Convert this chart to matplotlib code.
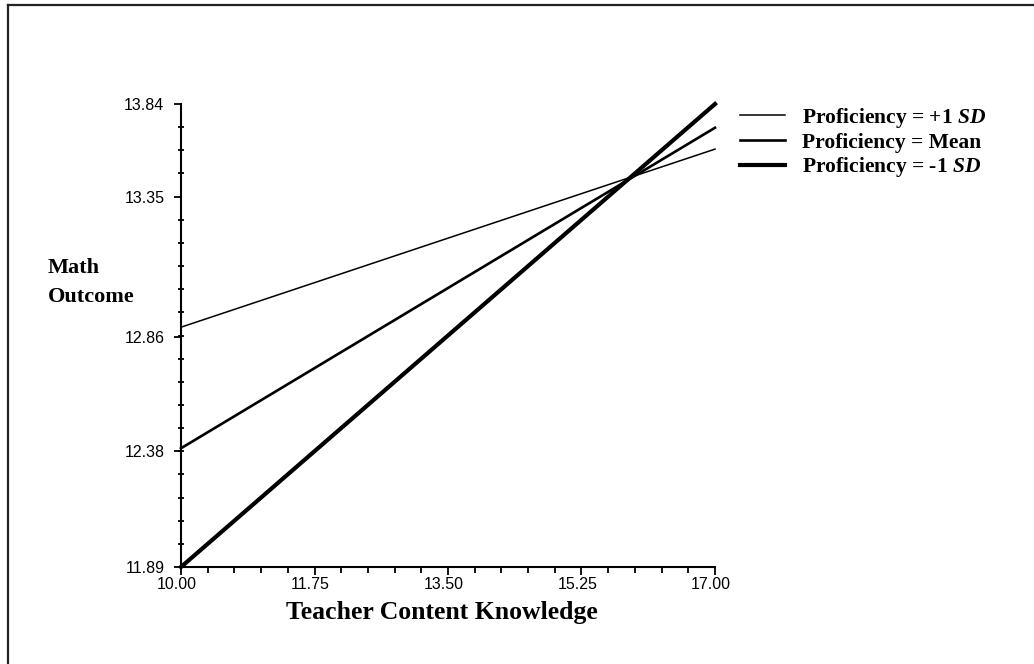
import matplotlib
matplotlib.use("Agg")
import numpy as np
import matplotlib.pyplot as plt
from matplotlib.lines import Line2D
from matplotlib.transforms import ScaledTranslation

# data
knowledge = [10.00, 17.00]
plus_sd = [12.90, 13.65]
mean_prof = [12.39, 13.74]
minus_sd = [11.89, 13.84]

xticks = [10.00, 11.75, 13.50, 15.25, 17.00]
# label positions as they sit in the reference (the "13.35" label is drawn higher up)
yticks = [11.89, 12.38, 12.86, 13.45, 13.84]
ytick_labels = ["11.89", "12.38", "12.86", "13.35", "13.84"]
labels = ["Proficiency = +1 $SD$", "Proficiency = Mean", "Proficiency = -1 $SD$"]

plt.rcParams['mathtext.fontset'] = 'custom'
plt.rcParams['mathtext.it'] = 'Liberation Serif:italic:bold'
plt.rcParams['mathtext.rm'] = 'Liberation Serif:bold'
plt.rcParams['mathtext.bf'] = 'Liberation Serif:bold'

fig = plt.figure(figsize=(10.34, 6.64), dpi=100)
ax = fig.add_axes([181/1034, 1-567/664, 534/1034, 463/664])

l1, = ax.plot(knowledge, plus_sd, color='black', lw=1.1, clip_on=False)
l2, = ax.plot(knowledge, mean_prof, color='black', lw=1.9, clip_on=False)
l3, = ax.plot(knowledge, minus_sd, color='black', lw=3.0, clip_on=False)

ax.set_xlim(10, 17)
ax.set_ylim(11.89, 13.84)
ax.set_xticks(xticks)
ax.set_xticklabels(["%.2f" % v for v in xticks])
ax.set_xticks(np.linspace(10, 17, 21), minor=True)
ax.set_yticks(yticks)
ax.set_yticklabels(ytick_labels)
ax.set_yticks(np.linspace(11.89, 13.84, 21), minor=True)

for s in ['top', 'right']:
    ax.spines[s].set_visible(False)
for s in ['left', 'bottom']:
    ax.spines[s].set_linewidth(1.5)

ax.tick_params(axis='x', which='major', direction='out', length=5.5, width=1.3, pad=2, labelsize=11.5)
ax.tick_params(axis='x', which='minor', direction='out', length=4, width=1.3)
ax.tick_params(axis='y', which='major', direction='out', length=5, width=1.3, pad=7, labelsize=11.5)
ax.tick_params(axis='y', which='minor', direction='inout', length=4.5, width=1.3)
shift = ScaledTranslation(-4/100, 0, fig.dpi_scale_trans)
for lab in ax.get_xticklabels():
    lab.set_family('Liberation Sans')
    lab.set_transform(lab.get_transform() + shift)
for lab in ax.get_yticklabels():
    lab.set_family('Liberation Sans')

fig.text(442/1034, 1-613/664, "Teacher Content Knowledge", ha='center', va='center',
         family='Liberation Serif', weight='bold', fontsize=18.5)
fig.text(48/1034, 1-268/664, "Math", ha='left', va='center',
         family='Liberation Serif', weight='bold', fontsize=16)
fig.text(48/1034, 1-297/664, "Outcome", ha='left', va='center',
         family='Liberation Serif', weight='bold', fontsize=16)

fig.legend([l1, l2, l3], labels, loc='upper left', bbox_to_anchor=(740/1034, 1-106/664),
           frameon=False, borderpad=0, borderaxespad=0, handlelength=2.1, handletextpad=0.8,
           labelspacing=0.12, prop={'family': 'Liberation Serif', 'weight': 'bold', 'size': 15.5})

# frame around the figure (only top and left visible)
fig.add_artist(Line2D([8/1034, 8/1034], [0, 1-5/664], color='#222222', lw=1.6))
fig.add_artist(Line2D([8/1034, 1], [1-5/664, 1-5/664], color='#222222', lw=1.6))

fig.savefig("out.png", dpi=100)
